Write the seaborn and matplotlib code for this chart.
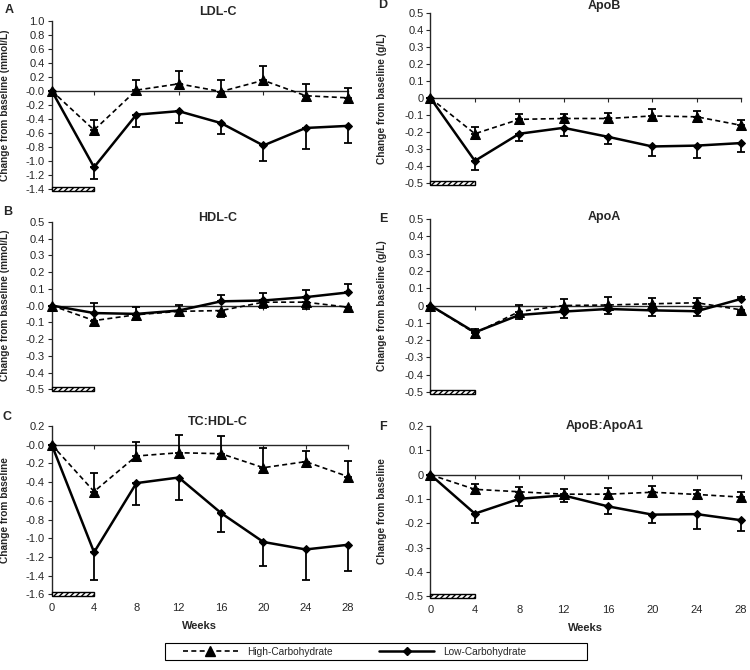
import numpy as np
import matplotlib
matplotlib.use("Agg")
import matplotlib.pyplot as plt
import matplotlib.transforms as mtransforms
from matplotlib.patches import Rectangle
from matplotlib.lines import Line2D
import seaborn as sns

sns.set_style("ticks")
plt.rcParams['font.family'] = ['Liberation Sans', 'DejaVu Sans']
plt.rcParams['axes.unicode_minus'] = False

# weeks of follow-up, shared by every panel
weeks = [0, 4, 8, 12, 16, 20, 24, 28]
lead_in = (0, 4)  # hatched bar: first 4 weeks

# signed error bars: positive = drawn upward, negative = drawn downward
ldl_hc = [0, -0.56, 0.01, 0.10, -0.01, 0.15, -0.07, -0.10]
ldl_hc_err = [0, 0.15, 0.14, 0.18, 0.16, 0.21, 0.17, 0.14]
ldl_lc = [0, -1.09, -0.34, -0.29, -0.46, -0.78, -0.53, -0.50]
ldl_lc_err = [0, -0.17, -0.17, -0.17, -0.15, -0.22, -0.30, -0.24]

hdl_hc = [0, -0.09, -0.055, -0.035, -0.03, 0.02, 0.02, -0.01]
hdl_hc_err = [0, -0.035, -0.025, -0.025, -0.04, -0.035, -0.04, -0.025]
hdl_lc = [0, -0.045, -0.05, -0.03, 0.025, 0.03, 0.05, 0.078]
hdl_lc_err = [0, 0.06, 0.04, 0.035, 0.04, 0.045, 0.045, 0.05]

tc_hc = [0, -0.50, -0.12, -0.085, -0.095, -0.245, -0.18, -0.34]
tc_hc_err = [0, 0.20, 0.15, 0.195, 0.185, 0.21, 0.115, 0.17]
tc_lc = [0, -1.15, -0.41, -0.35, -0.73, -1.04, -1.12, -1.07]
tc_lc_err = [0, -0.30, -0.23, -0.245, -0.205, -0.26, -0.33, -0.285]

apob_hc = [0, -0.21, -0.125, -0.12, -0.12, -0.105, -0.11, -0.16]
apob_hc_err = [0, 0.04, 0.03, 0.028, 0.035, 0.043, 0.035, 0.032]
apob_lc = [0, -0.37, -0.21, -0.175, -0.228, -0.285, -0.28, -0.265]
apob_lc_err = [0, -0.055, -0.045, -0.048, -0.04, -0.055, -0.075, -0.05]

apoa_hc = [0, -0.16, -0.035, 0.0, 0.003, 0.01, 0.016, -0.025]
apoa_hc_err = [0, 0.025, 0.04, 0.04, 0.045, 0.032, 0.028, -0.015]
apoa_lc = [0, -0.155, -0.055, -0.035, -0.02, -0.028, -0.033, 0.038]
apoa_lc_err = [0, -0.025, -0.024, -0.038, -0.03, -0.033, -0.027, 0.01]

ratio_hc = [0, -0.06, -0.07, -0.08, -0.08, -0.072, -0.081, -0.092]
ratio_hc_err = [0, 0.02, 0.02, 0.02, 0.025, 0.027, 0.02, 0.02]
ratio_lc = [0, -0.16, -0.099, -0.085, -0.13, -0.164, -0.162, -0.187]
ratio_lc_err = [0, -0.04, -0.03, -0.028, -0.03, -0.036, -0.06, -0.043]

panels = [
    # letter, title, ylabel, hc, hc_err, lc, lc_err, (ymin, ymax, step), one decimal on 0
    ("A", "LDL-C", "Change from baseline (mmol/L)", ldl_hc, ldl_hc_err, ldl_lc, ldl_lc_err, (-1.4, 1.0, 0.2), True),
    ("B", "HDL-C", "Change from baseline (mmol/L)", hdl_hc, hdl_hc_err, hdl_lc, hdl_lc_err, (-0.5, 0.5, 0.1), True),
    ("C", "TC:HDL-C", "Change from baseline", tc_hc, tc_hc_err, tc_lc, tc_lc_err, (-1.6, 0.2, 0.2), True),
    ("D", "ApoB", "Change from baseline (g/L)", apob_hc, apob_hc_err, apob_lc, apob_lc_err, (-0.5, 0.5, 0.1), False),
    ("E", "ApoA", "Change from baseline (g/L)", apoa_hc, apoa_hc_err, apoa_lc, apoa_lc_err, (-0.5, 0.5, 0.1), False),
    ("F", "ApoB:ApoA1", "Change from baseline", ratio_hc, ratio_hc_err, ratio_lc, ratio_lc_err, (-0.5, 0.2, 0.1), False),
]

# axes rectangles (figure fractions) and panel-letter spots
rects = [
    [0.069, 0.718, 0.395, 0.251],
    [0.069, 0.419, 0.395, 0.250],
    [0.069, 0.113, 0.395, 0.251],
    [0.574, 0.727, 0.414, 0.253],
    [0.574, 0.415, 0.414, 0.258],
    [0.574, 0.110, 0.414, 0.254],
]
letter_pos = [(0.006, 0.985), (0.004, 0.684), (0.003, 0.377),
              (0.504, 0.992), (0.505, 0.673), (0.506, 0.362)]
title_y = [1.05, 1.025, 1.025, 1.045, 1.01, 1.0]

fig = plt.figure(figsize=(7.5, 6.7), dpi=100)

for i, (letter, title, ylab, hc, hc_err, lc, lc_err, yr, dec) in enumerate(panels):
    ax = fig.add_axes(rects[i])
    ymin, ymax, step = yr

    for vals, err, ls, lw, mk, ms in [(lc, lc_err, '-', 1.8, 'D', 4.5),
                                       (hc, hc_err, (0, (3, 2)), 1.2, '^', 6.5)]:
        err = np.array(err)
        lower = np.where(err < 0, -err, 0)
        upper = np.where(err > 0, err, 0)
        ax.errorbar(weeks, vals, yerr=[lower, upper], fmt='none', ecolor='black',
                    elinewidth=1.3, capsize=3, capthick=1.3, clip_on=False, zorder=3)
        sns.lineplot(x=weeks, y=vals, ax=ax, color='black', linestyle=ls, lw=lw,
                     marker=mk, markersize=ms, markeredgecolor='black',
                     clip_on=False, zorder=4)

    ax.set_xlim(0, 28)
    ax.set_ylim(ymin, ymax)
    ticks = np.round(np.arange(ymin, ymax + step / 2, step), 2)
    ax.set_yticks(ticks)
    if dec:
        ax.set_yticklabels([f"{t:.1f}" for t in ticks])
    else:
        ax.set_yticklabels(["0" if abs(t) < 1e-9 else f"{t:.1f}" for t in ticks])

    ax.spines['top'].set_visible(False)
    ax.spines['right'].set_visible(False)
    ax.spines['bottom'].set_position(('data', 0))
    ax.spines['bottom'].set_linewidth(1.0)
    ax.spines['left'].set_linewidth(1.0)
    ax.set_xticks(weeks)
    ax.tick_params(axis='x', labelbottom=False, length=3, width=0.8, direction='out')
    ax.tick_params(axis='y', labelsize=8, length=3, width=0.8, pad=2)
    ax.set_xlabel('')
    ax.set_ylabel(ylab, fontsize=7.3, fontweight='bold')
    ax.yaxis.set_label_coords(-0.14, 0.5)

    ax.text(0.56, title_y[i], title, transform=ax.transAxes, ha='center', va='center',
            fontsize=9, fontweight='bold')
    fig.text(letter_pos[i][0], letter_pos[i][1], letter, ha='left', va='center',
             fontsize=9, fontweight='bold')

    # hatched lead-in bar at the foot of the axis
    trans = mtransforms.blended_transform_factory(ax.transData, ax.transAxes)
    ax.add_patch(Rectangle((lead_in[0], -0.012), lead_in[1] - lead_in[0], 0.026,
                           transform=trans, facecolor='white', edgecolor='black',
                           hatch='//////', lw=1.0, clip_on=False, zorder=5))

    if letter in ("C", "F"):
        sec = ax.secondary_xaxis('bottom')
        sec.set_xticks(weeks)
        sec.set_xticklabels([str(w) for w in weeks])
        sec.tick_params(length=0, labelsize=8, pad=6)
        sec.spines['bottom'].set_visible(False)
        sec.set_xlabel('Weeks', fontsize=8, fontweight='bold', labelpad=6)

# legend: frameless entries inside a separately drawn box
handles = [
    Line2D([], [], color='black', linestyle=(0, (3, 2)), lw=1.2, marker='^', markersize=6.5),
    Line2D([], [], color='black', linestyle='-', lw=1.8, marker='D', markersize=4.5),
]
fig.legend(handles, ['High-Carbohydrate', 'Low-Carbohydrate'], loc='center left',
           bbox_to_anchor=(0.244, 0.0276), ncol=2, fontsize=7.3, frameon=False,
           handlelength=5.4, columnspacing=4.6, borderpad=0, borderaxespad=0,
           handletextpad=0.9)
fig.patches.append(Rectangle((0.22, 1 - 660 / 670), 0.563, 17 / 670,
                             transform=fig.transFigure, fill=False,
                             edgecolor='black', lw=0.8))

fig.savefig("out.png", dpi=100)
